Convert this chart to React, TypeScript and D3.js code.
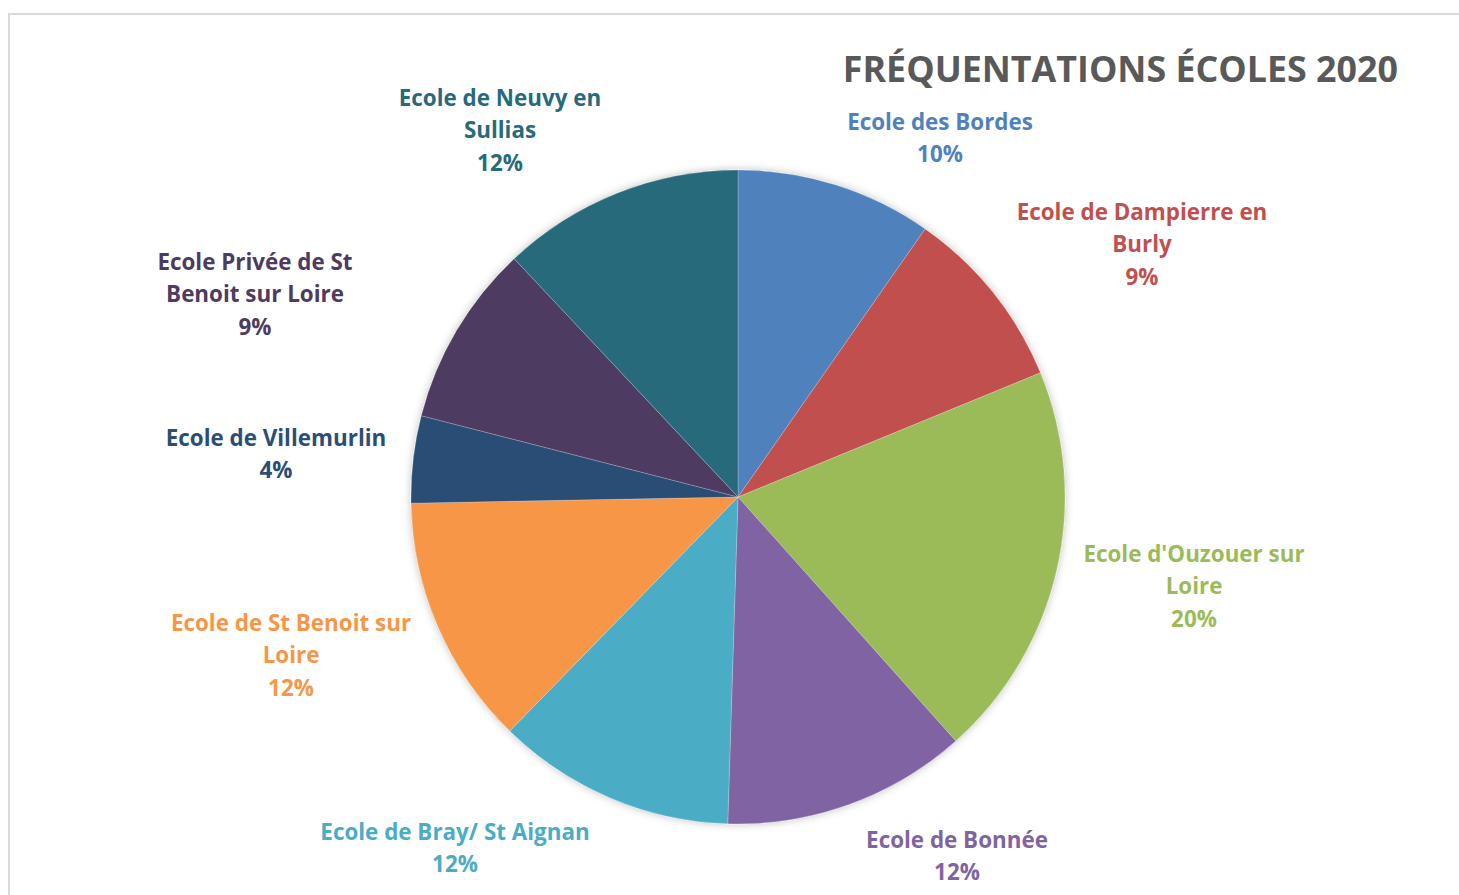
import React from "react";
import * as d3 from "d3";

const schools = [
  "Ecole des Bordes",
  "Ecole de Dampierre en Burly",
  "Ecole d'Ouzouer sur Loire",
  "Ecole de Bonnée",
  "Ecole de Bray/ St Aignan",
  "Ecole de St Benoit sur Loire",
  "Ecole de Villemurlin",
  "Ecole Privée de St Benoit sur Loire",
  "Ecole de Neuvy en Sullias",
];
const shares = [9.7, 9.1, 19.6, 12.1, 11.8, 12.4, 4.3, 9.0, 12.0];
const labelLines = [
  ["Ecole des Bordes"],
  ["Ecole de Dampierre en", "Burly"],
  ["Ecole d'Ouzouer sur", "Loire"],
  ["Ecole de Bonnée"],
  ["Ecole de Bray/ St Aignan"],
  ["Ecole de St Benoit sur", "Loire"],
  ["Ecole de Villemurlin"],
  ["Ecole Privée de St", "Benoit sur Loire"],
  ["Ecole de Neuvy en", "Sullias"],
];
const colors = [
  "#4F81BD", "#C0504D", "#9BBB59", "#8064A2", "#4BACC6",
  "#F79646", "#2C4D75", "#4D3B62", "#276A7C",
];
// layout: label block centre x and first line centre y
const labelPos: [number, number][] = [
  [940, 121], [1142, 211], [1194, 553], [957, 839], [455, 831],
  [291, 622], [276, 437], [255, 261], [500, 97],
];

const W = 1459, H = 895;
const cx = 738, cy = 497, R = 327;
const FONT = "'Open Sans', sans-serif";

export default function App() {
  const total = d3.sum(shares);
  const pie = d3.pie<number>().sort(null).value((d) => d)(shares);
  const arc = d3.arc<d3.PieArcDatum<number>>().innerRadius(0).outerRadius(R);
  const pct = (v: number) => `${Math.round((v / total) * 100)}%`;
  const lh = 32.5;
  return (
    <svg width={W} height={H} style={{ position: "absolute", left: 0, top: 0, background: "#fff" }}>
      <defs>
        <filter id="sh" x="-10%" y="-10%" width="120%" height="120%">
          <feDropShadow dx="0" dy="0" stdDeviation="4" floodColor="#000" floodOpacity="0.25" />
        </filter>
      </defs>
      <rect x={9} y={14} width={W + 20} height={H + 20} fill="#fff" stroke="#d9d9d9" strokeWidth={2} />
      <g transform={`translate(${cx},${cy})`}>
        <g filter="url(#sh)">
          {pie.map((p, i) => (
            <path key={i} d={arc(p) || ""} fill={colors[i]} stroke="#ffffff" strokeOpacity={0.35} strokeWidth={0.6} />
          ))}
        </g>
      </g>
      <text x={1398} y={82} textAnchor="end" fontFamily={FONT} fontWeight={700} fontSize={35.8} fill="#595959">
        FRÉQUENTATIONS ÉCOLES 2020
      </text>
      {labelLines.map((lines, i) => {
        const [x, y] = labelPos[i];
        const all = [...lines, pct(shares[i])];
        return (
          <text key={schools[i]} x={x} y={y} textAnchor="middle" fontFamily={FONT} fontWeight={700} fontSize={22.4} fill={colors[i]}>
            {all.map((t, j) => (
              <tspan key={j} x={x} y={y + j * lh} dominantBaseline="central">
                {t}
              </tspan>
            ))}
          </text>
        );
      })}
    </svg>
  );
}
